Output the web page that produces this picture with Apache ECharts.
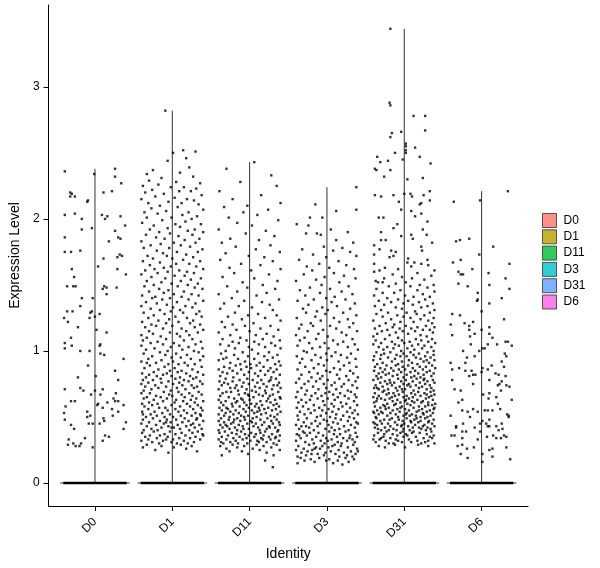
<!DOCTYPE html>
<html><head><meta charset="utf-8">
<script src="https://cdn.jsdelivr.net/npm/echarts@6/dist/echarts.min.js"></script>
<style>html,body{margin:0;padding:0;background:#fff}#c{width:600px;height:568px}</style>
</head><body><div id="c"></div>
<script>
const categories = ['D0','D1','D11','D3','D31','D6'];
const legendColors = ['#F8766D','#B79F00','#00BA38','#00BFC4','#619CFF','#F564E3'];
const yTickValues = [0,1,2,3];

// Non-zero expression values per identity, and their horizontal jitter (percent of one category step)
const d0Values = [2.38,2.36,2.34,2.32,2.27,2.20,2.19,2.17,2.17,2.14,2.13,2.20,2.21,2.03,2.04,2.00,2.03,2.00,2.02,2.02,
1.95,1.93,1.92,1.91,1.86,1.86,1.85,1.83,1.76,1.75,1.75,1.70,1.73,1.72,1.71,1.64,1.62,1.62,1.58,1.56,
1.49,1.49,1.49,1.49,1.48,1.47,1.48,1.43,1.40,1.40,1.34,1.30,1.30,1.30,1.29,1.25,1.28,1.25,1.22,1.26,
1.18,1.16,1.14,1.10,1.06,1.02,1.04,1.05,1.04,1.00,1.00,0.98,0.97,0.94,0.89,0.80,0.85,0.81,0.78,0.71,
0.72,0.70,0.70,0.71,0.68,0.67,0.67,0.61,0.64,0.62,0.62,0.62,0.62,0.60,0.59,0.58,0.57,0.59,0.56,0.53,
0.54,0.54,0.50,0.51,0.51,0.48,0.49,0.47,0.45,0.45,0.45,0.46,0.41,0.44,0.41,0.36,0.35,0.32,0.34,0.33,
0.29,0.30,0.28,0.28,0.30,0.27];
const d0Jitter = [26,-39,-1,26,34,-32,-30,-26,-32,-9,-10,11,22,-39,-26,-17,9,13,16,33,
39,-4,-17,26,-39,30,33,18,-19,-39,-31,11,32,35,29,4,29,-30,40,-27,
-36,-28,-25,12,15,10,28,15,-17,-3,-19,-36,-29,-4,-6,-7,6,-40,-35,0,
-22,2,15,-31,-39,-39,-30,7,6,-19,-7,7,12,37,-9,-22,26,1,30,-39,
-19,-15,0,10,27,-5,7,16,24,26,30,-31,-26,4,3,-38,10,37,22,-40,
-10,30,-10,-6,23,-39,11,12,6,-8,-3,40,37,-31,-27,13,18,10,-13,-34,
-35,-28,-25,-20,-18,-3];

const d1Values = [2.82,2.52,2.51,2.50,2.46,2.44,
2.39,2.37,2.35,2.34,2.32,2.31,
2.29,2.28,2.27,2.26,2.25,2.24,2.24,2.23,2.22,2.21,2.21,2.20,
2.19,2.18,2.17,2.16,2.15,2.15,2.14,2.13,2.12,2.12,2.11,2.10,
2.09,2.08,2.07,2.06,2.05,2.05,2.04,2.03,2.02,2.01,2.01,2.00,
1.99,1.98,1.97,1.96,1.96,1.95,1.94,1.93,1.92,1.92,1.91,1.90,1.90,
1.89,1.88,1.88,1.87,1.86,1.85,1.85,1.84,1.83,1.82,1.82,1.81,1.80,1.80,
1.79,1.78,1.78,1.77,1.76,1.75,1.75,1.74,1.73,1.72,1.72,1.71,1.70,1.70,
1.69,1.68,1.68,1.67,1.66,1.66,1.65,1.64,1.64,1.63,1.62,1.62,1.61,1.61,1.60,1.60,
1.59,1.59,1.58,1.57,1.57,1.56,1.55,1.55,1.54,1.53,1.53,1.52,1.51,1.51,1.50,1.50,
1.49,1.49,1.48,1.47,1.47,1.46,1.45,1.45,1.44,1.43,1.43,1.42,1.42,1.41,1.41,1.40,1.40,
1.39,1.39,1.38,1.37,1.37,1.36,1.36,1.35,1.34,1.34,1.33,1.33,1.32,1.31,1.31,1.30,1.30,
1.29,1.29,1.28,1.28,1.27,1.26,1.26,1.25,1.25,1.24,1.23,1.23,1.22,1.22,1.21,1.21,1.20,1.20,
1.19,1.19,1.18,1.18,1.17,1.17,1.16,1.15,1.15,1.14,1.14,1.13,1.13,1.12,1.12,1.11,1.11,1.10,
1.09,1.09,1.08,1.08,1.07,1.07,1.06,1.06,1.05,1.05,1.04,1.04,1.03,1.03,1.02,1.02,1.01,1.01,1.00,1.00,
0.99,0.99,0.98,0.98,0.97,0.97,0.96,0.96,0.95,0.95,0.94,0.94,0.93,0.93,0.92,0.92,0.91,0.91,0.90,0.90,0.90,0.91,
0.89,0.89,0.88,0.88,0.87,0.87,0.86,0.86,0.85,0.85,0.84,0.84,0.84,0.83,0.83,0.82,0.82,0.82,0.81,0.81,0.81,0.80,0.80,0.80,0.83,
0.79,0.79,0.79,0.78,0.78,0.78,0.77,0.77,0.77,0.76,0.76,0.76,0.75,0.75,0.75,0.74,0.74,0.74,0.73,0.73,0.73,0.72,0.72,0.72,0.71,0.71,0.70,0.70,
0.69,0.69,0.69,0.68,0.68,0.68,0.67,0.67,0.67,0.66,0.66,0.66,0.65,0.65,0.65,0.64,0.64,0.64,0.63,0.63,0.63,0.62,0.62,0.62,0.61,0.61,0.61,0.60,0.60,0.60,
0.59,0.59,0.59,0.58,0.58,0.58,0.57,0.57,0.57,0.56,0.56,0.56,0.55,0.55,0.55,0.54,0.54,0.54,0.53,0.53,0.53,0.52,0.52,0.52,0.51,0.51,0.51,0.50,0.50,0.50,0.51,0.52,
0.49,0.49,0.49,0.48,0.48,0.48,0.47,0.47,0.47,0.46,0.46,0.46,0.45,0.45,0.45,0.44,0.44,0.44,0.43,0.43,0.43,0.42,0.42,0.42,0.41,0.41,0.41,0.40,0.40,0.40,0.46,0.44,0.42,0.48,
0.39,0.39,0.39,0.38,0.38,0.38,0.37,0.37,0.37,0.36,0.36,0.36,0.35,0.35,0.35,0.34,0.34,0.34,0.33,0.33,0.33,0.32,0.32,0.32,0.31,0.31,0.31,0.30,0.30,0.30,0.36,0.33,
0.29,0.29,0.28,0.28,0.27,0.27,0.26,0.25,0.24,0.23];
const d1Jitter = [-9,14,30,1,18,-6,
22,-25,10,-33,27,-14,
-30,5,36,-18,-38,15,-2,31,-26,9,24,-35,
-11,38,-22,3,19,-40,28,-5,12,-31,34,-16,
7,-27,40,-8,21,-36,-19,13,32,-1,-33,25,
-13,17,-39,4,37,-24,10,-6,29,-29,20,-17,40,
-3,-34,26,8,-21,35,-10,16,-40,2,30,-15,-28,11,
23,-37,-4,39,-20,6,33,-12,18,-32,-7,27,0,-25,
14,-38,36,-16,5,22,-29,-2,31,-11,40,-23,9,-35,19,-6,
28,-19,-40,3,16,-27,37,-9,24,-33,11,-14,33,-1,-24,20,
-36,7,29,-17,39,-5,15,-30,-11,25,2,-39,34,-22,12,-3,-26,
21,-13,40,-34,6,-20,30,-7,17,-40,1,26,-28,10,-16,35,-2,
-37,14,-10,31,-24,4,38,-31,19,-4,27,-18,8,-39,23,-8,36,-27,
0,-21,29,-35,12,-12,40,-30,18,-3,33,-25,6,-40,22,-15,10,-33,
26,-8,-38,15,37,-19,2,-28,30,-12,9,-40,21,-2,39,-23,13,-34,-6,28,
-16,34,5,-37,19,-9,40,-26,11,-1,-31,24,-14,36,1,-40,16,-21,29,-5,8,-33,
20,-29,-10,38,3,-36,26,-18,12,-3,33,-24,7,-39,18,-12,40,-30,-1,23,-20,10,-34,31,-7,
-15,27,4,-38,15,-25,36,-5,21,-31,9,-14,39,-40,1,25,-22,13,-8,32,-35,6,-18,28,-27,17,-2,-37,
34,-11,8,-29,22,-40,12,-4,38,-21,26,0,-33,16,-15,31,-7,-37,5,24,-24,40,-12,14,-30,3,29,-19,19,-39,
-1,33,-26,10,-36,23,-9,37,-17,4,27,-31,15,-6,39,-23,8,-39,30,-13,19,-3,-28,36,11,-20,25,-34,1,-10,37,-38,
16,-25,32,-7,5,-38,21,-16,40,-2,-30,13,27,-11,-40,7,35,-21,-5,18,-33,29,-14,2,-27,38,10,-19,22,-37,-8,24,-1,31,
-3,33,-24,12,-39,26,-10,4,39,-29,17,-16,30,-6,-35,9,23,-20,1,36,-31,-12,15,-40,28,-1,-26,6,20,-17,40,-8,
-33,11,25,-14,2,-38,18,-22,32,-5];

const d11Values = [2.43,2.38,2.33,
2.28,2.25,2.21,
2.18,2.15,2.12,2.10,
2.09,2.07,2.05,2.03,2.01,
1.99,1.97,1.95,1.92,1.91,
1.89,1.87,1.85,1.84,1.82,1.80,
1.79,1.77,1.75,1.74,1.72,1.71,
1.69,1.68,1.66,1.65,1.63,1.62,1.61,
1.59,1.58,1.56,1.55,1.53,1.52,1.50,
1.49,1.48,1.47,1.45,1.44,1.43,1.42,1.40,
1.39,1.38,1.37,1.36,1.35,1.34,1.33,1.32,1.31,
1.29,1.28,1.27,1.27,1.26,1.25,1.24,1.23,1.22,1.21,1.20,
1.19,1.19,1.18,1.17,1.16,1.16,1.15,1.14,1.13,1.12,1.12,1.11,1.10,
1.09,1.09,1.08,1.08,1.07,1.07,1.06,1.06,1.05,1.05,1.04,1.04,1.03,1.03,1.02,1.02,1.01,1.00,
0.99,0.99,0.98,0.98,0.97,0.97,0.96,0.96,0.95,0.95,0.94,0.94,0.93,0.93,0.92,0.92,0.91,0.91,0.90,0.90,0.90,0.94,
0.89,0.89,0.89,0.88,0.88,0.88,0.87,0.87,0.87,0.86,0.86,0.86,0.85,0.85,0.85,0.84,0.84,0.84,0.83,0.83,0.83,0.82,0.82,0.82,0.81,0.81,0.80,0.80,
0.79,0.79,0.79,0.78,0.78,0.78,0.77,0.77,0.77,0.76,0.76,0.76,0.75,0.75,0.75,0.74,0.74,0.74,0.73,0.73,0.73,0.72,0.72,0.72,0.71,0.71,0.71,0.70,0.70,0.70,0.74,0.76,0.72,0.78,
0.69,0.69,0.69,0.68,0.68,0.68,0.67,0.67,0.67,0.66,0.66,0.66,0.65,0.65,0.65,0.64,0.64,0.64,0.63,0.63,0.63,0.62,0.62,0.62,0.61,0.61,0.61,0.60,0.60,0.60,0.69,0.67,0.66,0.64,0.63,0.62,0.61,0.60,
0.59,0.59,0.59,0.59,0.58,0.58,0.58,0.58,0.57,0.57,0.57,0.57,0.56,0.56,0.56,0.56,0.55,0.55,0.55,0.55,0.54,0.54,0.54,0.54,0.53,0.53,0.53,0.53,0.52,0.52,0.52,0.52,0.51,0.51,0.51,0.51,0.50,0.50,0.50,0.50,0.55,0.57,
0.49,0.49,0.49,0.49,0.48,0.48,0.48,0.48,0.47,0.47,0.47,0.47,0.46,0.46,0.46,0.46,0.45,0.45,0.45,0.45,0.44,0.44,0.44,0.44,0.43,0.43,0.43,0.43,0.42,0.42,0.42,0.42,0.41,0.41,0.41,0.41,0.40,0.40,0.40,0.40,0.46,0.44,0.42,0.48,
0.39,0.39,0.39,0.39,0.38,0.38,0.38,0.38,0.37,0.37,0.37,0.37,0.36,0.36,0.36,0.36,0.35,0.35,0.35,0.35,0.34,0.34,0.34,0.34,0.33,0.33,0.33,0.33,0.32,0.32,0.32,0.32,0.31,0.31,0.31,0.31,0.30,0.30,0.30,0.30,0.35,0.33,
0.29,0.29,0.29,0.28,0.28,0.28,0.27,0.27,0.26,0.26,0.25,0.25,0.24,0.24,0.23,0.22,0.21,0.21,
0.17,0.12];
const d11Jitter = [6,-30,28,
-12,35,-39,
15,-22,40,-3,
-33,24,-8,10,-27,
37,-16,3,-40,21,
-5,32,-25,12,-36,27,
-18,8,39,-31,-1,19,
-38,30,-11,14,-26,40,2,
-20,25,-35,6,36,-9,17,
-29,-3,33,-16,22,-40,9,-23,
38,-7,16,-33,26,-14,3,-38,30,
-19,11,-2,35,-28,20,-10,40,-36,5,-22,
27,-6,-32,14,-17,37,0,-40,22,-25,8,31,-12,
-35,17,-4,39,-22,6,28,-14,-38,12,33,-27,-1,20,-19,40,3,-31,
25,-9,-37,11,36,-20,-2,19,-30,30,6,-15,-40,23,-6,38,-25,13,-12,33,1,-34,
-18,9,40,-33,18,-4,27,-26,2,-40,35,-11,14,-22,24,-1,-35,31,7,-16,-29,20,39,-7,-38,11,-21,28,
-3,34,-31,15,-13,4,-39,25,-22,10,38,-8,-28,18,-1,31,-17,-36,7,22,-10,40,-25,13,-4,-40,29,-15,3,20,36,-33,-19,27,
-24,8,37,-6,-35,21,-14,12,30,-38,-1,17,-27,39,5,-11,24,-20,-40,33,0,-16,14,-31,27,-7,-37,9,35,-23,-30,-2,26,40,-9,22,-18,2,
-34,16,-4,31,-22,7,38,-13,-39,24,-1,12,-28,34,-8,19,-18,3,29,-36,10,-25,40,-5,21,-31,-14,6,36,-21,-40,15,-2,27,-11,-33,9,32,-26,-7,13,-30,
23,-16,-37,4,35,-6,14,-27,-40,28,-12,1,19,-21,38,-33,8,-3,30,-24,-14,16,-38,39,-9,25,-29,5,-19,33,11,-35,-1,22,-26,-8,37,-16,13,-40,3,-31,26,-20,
-11,20,-32,36,2,-23,14,-39,29,-6,-17,8,39,-28,-1,18,-36,25,-13,6,33,-21,-4,15,-40,27,-9,-30,10,38,-18,1,-25,22,-37,12,-3,31,-15,-34,34,17,
-22,9,35,-7,-38,18,28,-16,4,-30,13,39,-10,-26,22,-2,31,-36,
20,30];

const d3Values = [2.24,2.11,2.07,2.06,2.01,2.01,
1.96,1.95,1.92,1.90,
1.89,1.89,1.88,1.84,1.82,
1.79,1.78,1.77,1.76,1.75,1.73,1.72,1.71,
1.69,1.68,1.66,1.65,1.64,1.63,1.62,1.61,
1.59,1.58,1.57,1.56,1.55,1.54,1.53,1.52,1.50,
1.49,1.48,1.47,1.46,1.45,1.44,1.43,1.42,1.41,1.40,
1.39,1.39,1.38,1.37,1.36,1.35,1.34,1.33,1.32,1.32,1.31,1.30,
1.29,1.29,1.28,1.27,1.26,1.25,1.25,1.24,1.23,1.22,1.21,1.21,1.20,
1.19,1.19,1.18,1.17,1.17,1.16,1.15,1.15,1.14,1.13,1.12,1.12,1.11,1.10,
1.09,1.09,1.08,1.08,1.07,1.06,1.06,1.05,1.05,1.04,1.03,1.03,1.02,1.02,1.01,1.00,
0.99,0.99,0.98,0.98,0.97,0.97,0.96,0.96,0.95,0.95,0.94,0.94,0.93,0.93,0.92,0.91,0.91,0.90,
0.89,0.89,0.88,0.88,0.87,0.87,0.86,0.86,0.85,0.85,0.84,0.84,0.83,0.83,0.82,0.82,0.81,0.81,0.80,0.80,
0.79,0.79,0.79,0.78,0.78,0.77,0.77,0.77,0.76,0.76,0.75,0.75,0.75,0.74,0.74,0.73,0.73,0.72,0.72,0.72,0.71,0.71,0.70,0.70,
0.69,0.69,0.69,0.68,0.68,0.68,0.67,0.67,0.67,0.66,0.66,0.66,0.65,0.65,0.65,0.64,0.64,0.64,0.63,0.63,0.63,0.62,0.62,0.61,0.61,0.61,0.60,0.60,
0.59,0.59,0.59,0.58,0.58,0.58,0.57,0.57,0.57,0.56,0.56,0.56,0.55,0.55,0.55,0.54,0.54,0.54,0.53,0.53,0.53,0.52,0.52,0.52,0.51,0.51,0.51,0.50,0.50,0.50,
0.49,0.49,0.49,0.48,0.48,0.48,0.47,0.47,0.47,0.46,0.46,0.46,0.45,0.45,0.45,0.44,0.44,0.44,0.43,0.43,0.43,0.42,0.42,0.42,0.41,0.41,0.41,0.40,0.40,0.40,0.45,0.43,
0.39,0.39,0.39,0.38,0.38,0.38,0.37,0.37,0.37,0.36,0.36,0.36,0.35,0.35,0.35,0.34,0.34,0.34,0.33,0.33,0.33,0.32,0.32,0.32,0.31,0.31,0.31,0.30,0.30,0.30,0.36,0.34,0.32,0.38,
0.29,0.29,0.29,0.28,0.28,0.28,0.27,0.27,0.27,0.26,0.26,0.26,0.25,0.25,0.25,0.24,0.24,0.24,0.23,0.23,0.23,0.22,0.22,0.22,0.21,0.21,0.21,0.20,0.20,0.20,0.26,0.24,0.22,0.28,
0.19,0.19,0.19,0.18,0.18,0.18,0.17,0.17,0.17,0.16,0.16,0.15,0.15,0.14];
const d3Jitter = [38,-15,38,12,-22,-6,
-39,-24,5,27,
-27,-13,-8,12,34,
-4,20,-32,8,30,-18,38,-1,
-36,15,-10,25,-26,3,35,-19,
9,-30,22,-3,37,-14,-40,16,-7,
28,-22,4,-35,19,-9,33,-28,10,-1,
-17,24,-38,6,36,-24,13,-6,30,-31,1,-13,
21,-27,-2,38,-15,9,-39,27,-8,16,-21,34,-33,
4,-18,29,-36,12,-5,39,-25,19,-11,-40,25,1,-29,
33,-14,8,-35,21,-3,-23,36,14,-38,-9,27,2,-19,40,-30,
11,-26,-1,31,-15,18,-39,6,26,-8,-32,37,0,-20,15,-35,29,-11,
22,-4,-28,38,9,-17,-38,17,-1,30,-23,4,-12,34,-33,13,-6,25,-20,40,
-9,16,-36,28,1,-24,37,-14,10,-40,22,-4,-29,33,6,-18,19,-33,-1,39,-11,12,27,-26,
3,-38,31,-15,17,-2,-28,36,8,-20,23,-7,-40,14,38,-12,1,28,-33,-22,10,35,-5,18,-27,-37,6,25,
-17,39,-3,20,-31,9,-10,30,-39,2,-24,15,36,-6,-16,26,-35,7,-1,33,-21,12,-29,40,-8,21,-38,4,-13,29,
-26,11,35,-4,-37,18,-15,27,0,-30,38,8,-20,14,-9,31,-40,2,22,-12,-33,36,6,-23,16,-2,-36,28,-17,10,40,-27,
3,-31,24,-11,37,-22,9,-39,17,-5,30,-26,-14,13,39,-34,-1,21,-19,33,6,-40,-8,26,14,-28,36,-3,-17,19,-36,29,1,-29,
10,-23,34,-6,-37,18,-14,27,2,-30,39,-9,15,-19,-40,31,5,-25,-2,22,-33,37,-12,11,-27,26,-4,-38,16,33,-16,40,-20,7,
-10,24,-34,3,35,-21,14,-29,-1,28,-16,8,-38,20];

const d31Values = [3.44,2.88,2.86,2.78,2.78,2.67,2.66,2.65,2.62,2.57,2.55,2.54,2.52,2.50,2.50,2.47,2.47,2.45,2.44,2.43,2.42,2.38,2.37,2.37,2.32,2.31,2.30,
2.21,2.19,2.19,2.18,2.18,2.17,2.18,2.17,2.14,2.13,2.12,2.11,2.07,2.06,2.04,2.02,2.01,2.01,1.98,1.96,1.93,1.92,1.90,
1.88,1.88,1.87,1.85,1.84,1.84,1.82,1.80,1.79,1.77,1.76,1.76,1.75,1.73,1.72,1.71,1.70,
1.69,1.67,1.67,1.66,1.66,1.65,1.64,1.63,1.62,1.61,1.61,1.60,
1.59,1.58,1.57,1.56,1.55,1.55,1.54,1.53,1.52,1.52,1.52,1.51,1.50,1.50,
1.49,1.49,1.48,1.47,1.46,1.46,1.45,1.44,1.44,1.43,1.42,1.42,1.41,1.41,1.40,
1.39,1.39,1.38,1.38,1.37,1.37,1.36,1.36,1.35,1.35,1.34,1.34,1.33,1.33,1.32,1.31,1.31,1.30,
1.29,1.29,1.29,1.28,1.28,1.27,1.27,1.26,1.26,1.25,1.25,1.24,1.24,1.23,1.23,1.22,1.22,1.21,1.21,1.20,
1.19,1.19,1.19,1.18,1.18,1.18,1.17,1.17,1.17,1.16,1.16,1.16,1.15,1.15,1.15,1.14,1.14,1.13,1.13,1.12,1.12,1.11,1.11,1.10,
1.09,1.09,1.09,1.08,1.08,1.08,1.07,1.07,1.07,1.06,1.06,1.06,1.05,1.05,1.05,1.04,1.04,1.04,1.03,1.03,1.03,1.02,1.02,1.02,1.01,1.01,1.00,1.00,
0.99,0.99,0.99,0.99,0.98,0.98,0.98,0.97,0.97,0.97,0.96,0.96,0.96,0.96,0.95,0.95,0.95,0.94,0.94,0.94,0.93,0.93,0.93,0.92,0.92,0.92,0.91,0.91,0.91,0.90,0.90,0.90,0.97,0.93,
0.89,0.89,0.89,0.89,0.88,0.88,0.88,0.88,0.87,0.87,0.87,0.87,0.86,0.86,0.86,0.86,0.85,0.85,0.85,0.85,0.84,0.84,0.84,0.84,0.83,0.83,0.83,0.83,0.82,0.82,0.82,0.82,0.81,0.81,0.81,0.81,0.80,0.80,0.80,0.80,
0.79,0.79,0.79,0.79,0.78,0.78,0.78,0.78,0.77,0.77,0.77,0.77,0.76,0.76,0.76,0.76,0.75,0.75,0.75,0.75,0.74,0.74,0.74,0.74,0.73,0.73,0.73,0.73,0.72,0.72,0.72,0.72,0.71,0.71,0.71,0.71,0.70,0.70,0.70,0.70,0.76,0.74,0.72,0.78,0.71,
0.69,0.69,0.69,0.69,0.68,0.68,0.68,0.68,0.67,0.67,0.67,0.67,0.66,0.66,0.66,0.66,0.65,0.65,0.65,0.65,0.64,0.64,0.64,0.64,0.63,0.63,0.63,0.63,0.62,0.62,0.62,0.62,0.61,0.61,0.61,0.61,0.60,0.60,0.60,0.60,0.68,0.66,0.64,0.62,0.67,0.65,0.63,0.61,
0.59,0.59,0.59,0.59,0.58,0.58,0.58,0.58,0.57,0.57,0.57,0.57,0.56,0.56,0.56,0.56,0.55,0.55,0.55,0.55,0.54,0.54,0.54,0.54,0.53,0.53,0.53,0.53,0.52,0.52,0.52,0.52,0.51,0.51,0.51,0.51,0.50,0.50,0.50,0.50,0.58,0.56,0.54,0.52,0.57,0.55,0.53,0.51,0.59,0.53,
0.49,0.49,0.49,0.49,0.48,0.48,0.48,0.48,0.47,0.47,0.47,0.47,0.46,0.46,0.46,0.46,0.45,0.45,0.45,0.45,0.44,0.44,0.44,0.44,0.43,0.43,0.43,0.43,0.42,0.42,0.42,0.42,0.41,0.41,0.41,0.41,0.40,0.40,0.40,0.40,0.48,0.46,0.44,0.42,0.47,0.45,0.43,0.41,0.49,0.40,
0.39,0.39,0.39,0.38,0.38,0.38,0.37,0.37,0.37,0.36,0.36,0.36,0.35,0.35,0.35,0.34,0.34,0.34,0.33,0.33,0.33,0.32,0.32,0.32,0.31,0.31,0.31,0.30,0.30,0.30,0.37,0.35,0.33,0.31,0.39,0.36,0.34,0.32,0.38,0.30,
0.29,0.29,0.28,0.28,0.27,0.27];
const d31Jitter = [-18,-19,-18,12,27,27,-4,-16,-18,2,2,14,2,-12,2,-35,20,-2,-21,-31,34,-38,-36,-18,-26,24,4,
33,0,8,-38,-14,10,25,-30,33,-7,22,20,-4,9,22,14,-33,-27,30,-9,-14,24,-30,
9,29,-4,11,-30,-24,36,-39,22,-32,-17,23,-11,-39,-14,-19,5,
30,4,13,22,-39,31,9,-25,-8,-32,39,-39,
17,-15,35,-3,-26,10,26,-37,-34,-28,2,-11,20,38,
-20,8,30,-36,-5,17,39,-28,-13,24,1,-39,12,33,-22,
-8,27,-33,5,19,-17,37,-1,-26,11,30,-38,-11,22,-3,-30,39,14,
-21,3,33,-36,16,-9,26,-28,-1,38,8,-17,21,-40,31,-5,12,-24,36,-13,
2,28,-32,-15,17,39,-6,-38,9,24,-22,33,-2,-29,14,-11,37,-35,5,21,-19,-40,29,-8,
15,-25,36,-3,-37,22,7,-16,31,-30,0,40,-12,18,-40,26,-7,10,-22,35,-33,4,-14,23,-27,13,-4,38,
-18,8,30,-36,-1,19,-26,38,-10,12,-39,27,-5,3,-21,34,15,-31,-12,21,6,-40,39,-16,25,-3,-28,10,32,-8,17,-35,-30,29,
-23,5,36,-11,20,-38,-2,28,-17,11,-31,40,1,-25,24,-7,33,-14,14,-39,-4,29,-28,8,-20,38,18,-33,-9,3,25,-24,-36,13,35,-15,-1,21,-30,9,
-8,26,-34,16,-19,37,2,-40,11,-25,30,-4,-13,20,-31,39,6,-22,27,-1,-37,15,33,-16,-6,23,-28,8,-39,35,-11,19,-21,1,29,-33,12,-9,38,-26,-18,4,-35,25,-3,
18,-28,-2,34,-14,9,-38,26,-7,39,-23,14,-33,3,21,-12,32,-40,-1,11,-19,28,-30,6,37,-9,17,-25,-36,1,24,-15,31,-5,-39,13,-22,40,4,-11,-20,35,-35,10,29,-16,2,22,
-27,8,36,-13,19,-38,-3,27,-20,12,39,-31,1,-9,23,-24,33,-35,6,-15,16,-40,29,-6,-18,37,3,-28,10,-11,25,-33,-1,34,-22,15,-37,21,-8,30,-25,38,-30,2,-5,19,-39,7,31,24,
-16,3,27,-36,13,-7,38,-26,-2,21,-31,32,-12,9,-40,18,-21,36,0,-29,26,-9,14,-35,5,-18,39,-4,30,-25,-38,11,-14,22,-1,34,-30,7,-20,28,-19,31,-3,19,8,-38,24,-34,16,-10,
-23,12,35,-5,-34,20,-15,29,2,-39,38,-9,15,-27,-1,25,-18,36,-32,6,-11,31,-24,17,-3,-37,9,22,-14,39,-26,33,-40,27,-2,4,-30,-8,10,-20,
-12,18,-33,31,1,-25];

const d6Values = [2.21,2.13,2.14,1.83,1.84,1.85,1.79,1.73,1.67,1.69,
1.66,1.62,1.60,1.58,1.58,1.59,1.55,1.51,1.49,1.50,
1.47,1.44,1.40,1.38,1.39,1.36,1.30,1.28,1.27,1.24,
1.22,1.21,1.19,1.16,1.20,1.18,1.13,1.16,1.12,1.11,
1.13,1.10,1.07,1.07,1.05,1.05,1.05,1.02,1.02,1.04,
1.00,1.00,0.98,0.96,0.95,0.96,0.91,0.91,0.92,0.88,
0.89,0.86,0.87,0.85,0.87,0.86,0.85,0.82,0.81,0.82,
0.84,0.83,0.82,0.81,0.78,0.78,0.77,0.73,0.74,0.74,
0.75,0.75,0.71,0.70,0.67,0.68,0.70,0.65,0.63,0.61,
0.63,0.64,0.60,0.56,0.55,0.56,0.55,0.55,0.55,0.54,
0.54,0.52,0.51,0.51,0.50,0.47,0.48,0.50,0.43,0.42,
0.45,0.42,0.45,0.45,0.43,0.43,0.43,0.45,0.41,0.39,
0.39,0.39,0.40,0.36,0.36,0.36,0.34,0.35,0.36,0.34,
0.35,0.34,0.33,0.28,0.29,0.27,0.26,0.27,0.25,0.26,
0.22,0.22,0.19,0.20,0.18,0.16];
const d6Jitter = [34,-36,-2,-33,-28,-16,15,-3,-37,-27,
36,-12,-30,-27,-24,9,31,-30,-18,10,
36,-5,26,-6,-5,10,0,-38,-28,29,
-11,-22,-16,-16,-40,10,10,0,-38,-15,
-9,14,34,31,-14,8,20,1,4,39,
-3,-24,30,32,-19,-9,-40,-21,26,29,
13,-38,-29,-21,1,8,-13,-11,-16,-8,
0,18,22,31,-38,10,26,36,32,21,
23,-11,-35,-27,2,10,25,19,39,-30,
-25,9,21,24,-25,-11,4,8,14,-18,
-5,33,35,-40,-15,1,10,35,-33,-33,
-24,-9,-2,6,8,10,19,26,27,-25,
-20,-2,22,-39,-35,15,19,32,29,25,
7,-25,-5,-31,-25,32,-19,-10,10,14,
1,-27,-18,14,37,1];

const groups = [
  [d0Values, d0Jitter], [d1Values, d1Jitter], [d11Values, d11Jitter],
  [d3Values, d3Jitter], [d31Values, d31Jitter], [d6Values, d6Jitter]
];

const FONT = "'Liberation Sans', Arial, sans-serif";
const chart = echarts.init(document.getElementById('c'), null, {renderer: 'canvas'});

const pointData = [];
groups.forEach(([vals, jit], i) => {
  const n = Math.min(vals.length, jit.length);
  for (let k = 0; k < n; k++) pointData.push([i + jit[k] / 100, vals[k]]);
});

const series = [];
groups.forEach(([vals], i) => {
  const top = Math.max(...vals);
  const base = {type: 'line', symbol: 'none', silent: true, animation: false, z: 2};
  series.push(Object.assign({}, base, {data: [[i, 0], [i, top]], lineStyle: {color: '#333', width: 1}}));
  series.push(Object.assign({}, base, {data: [[i - 0.45, 0], [i + 0.45, 0]], lineStyle: {color: '#333', width: 1}}));
  series.push(Object.assign({}, base, {data: [[i - 0.41, 0], [i + 0.41, 0]], lineStyle: {color: '#000', width: 2.5}, z: 4}));
});
series.push({
  type: 'scatter', data: pointData, symbol: 'rect', symbolSize: 2.4,
  itemStyle: {color: '#000'}, silent: true, animation: false, z: 3
});
categories.forEach((c, i) => series.push({
  name: c, type: 'scatter', data: [], itemStyle: {color: legendColors[i]}
}));

chart.setOption({
  animation: false,
  backgroundColor: '#fff',
  textStyle: {fontFamily: FONT},
  grid: {left: 43, right: 72, top: 5, bottom: 62, containLabel: false},
  legend: {
    orient: 'vertical', left: 542, top: 213, padding: 0,
    itemWidth: 14, itemHeight: 14, itemGap: 1.3, icon: 'rect',
    selectedMode: false,
    itemStyle: {borderColor: '#333', borderWidth: 1},
    textStyle: {fontFamily: FONT, fontSize: 12, color: '#000', padding: [0, 0, 0, 2]},
    data: categories
  },
  xAxis: {
    type: 'value', min: -0.6, max: 5.6,
    name: 'Identity', nameLocation: 'middle', nameGap: 32,
    nameTextStyle: {fontFamily: FONT, fontSize: 14, color: '#000'},
    axisLine: {show: true, onZero: false, lineStyle: {color: '#000', width: 1}},
    axisTick: {show: true, length: 5, customValues: categories.map((c, i) => i), lineStyle: {color: '#000'}},
    axisLabel: {
      customValues: categories.map((c, i) => i), rotate: 45, margin: 14,
      fontFamily: FONT, fontSize: 12, color: '#000',
      formatter: v => categories[Math.round(v)]
    },
    splitLine: {show: false}
  },
  yAxis: {
    type: 'value', min: -0.174, max: 3.62,
    name: 'Expression Level', nameLocation: 'middle', nameGap: 17,
    nameTextStyle: {fontFamily: FONT, fontSize: 14, color: '#000'},
    axisLine: {show: true, onZero: false, lineStyle: {color: '#000', width: 1}},
    axisTick: {show: true, length: 5, customValues: yTickValues, lineStyle: {color: '#000'}},
    axisLabel: {customValues: yTickValues, margin: 9, fontFamily: FONT, fontSize: 12, color: '#000'},
    splitLine: {show: false}
  },
  series: series
});
</script>
</body></html>
